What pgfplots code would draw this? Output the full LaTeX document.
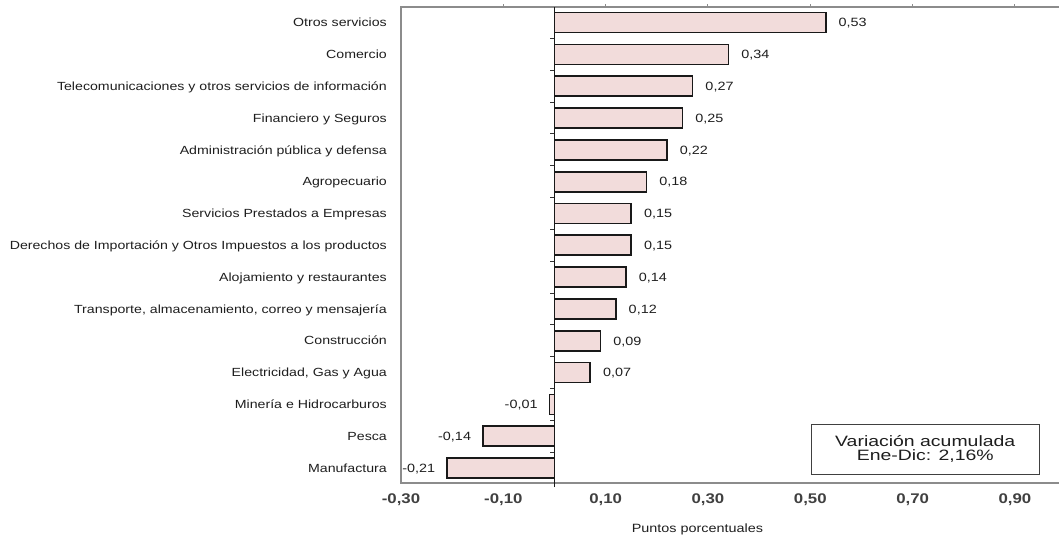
\documentclass[border=0pt]{standalone}
\usepackage{fontspec}
\setmainfont{Liberation Sans}[FakeStretch=1.2]
\usepackage{pgfplots}
\usepackage{pgfplotstable}
\pgfplotsset{compat=1.18}

\definecolor{barfill}{HTML}{F2DCDB}
\definecolor{framegray}{HTML}{8C8C8C}
\definecolor{txt}{HTML}{1E1E1E}

% contributions (percentage points); idx 0 = bottom row
\pgfplotstableread{
idx val
0 -0.21
1 -0.14
2 -0.01
}\negdata
\pgfplotstableread{
idx val
3 0.07
4 0.09
5 0.12
6 0.14
7 0.15
8 0.15
9 0.18
10 0.22
11 0.25
12 0.27
13 0.34
14 0.53
}\posdata

\begin{document}
\begin{tikzpicture}
\useasboundingbox (-401pt,-55pt) rectangle ++(1059pt,538pt);
\begin{axis}[
  scale only axis,
  width=658pt, height=476pt,
  xmin=-0.3, xmax=0.986,
  ymin=-0.47, ymax=14.49,
  clip=false,
  xbar, bar width=20pt, bar shift=0pt,
  axis line style={draw=none},
  major tick length=0pt,
  xtick={-0.3,-0.1,0.1,0.3,0.5,0.7,0.9},
  xticklabels={{-0,30},{-0,10},{0,10},{0,30},{0,50},{0,70},{0,90}},
  x tick label style={font=\bfseries\fontsize{14}{14}\selectfont, text=txt!85,
    anchor=base, inner sep=0pt, yshift=-20pt},
  ytick={0,...,14},
  yticklabels={Manufactura, Pesca, Minería e Hidrocarburos,
    {Electricidad, Gas y Agua}, Construcción,
    {Transporte, almacenamiento, correo y mensajería\hspace{3pt}},
    Alojamiento y restaurantes\hspace{3pt},
    Derechos de Importación y Otros Impuestos a los productos,
    Servicios Prestados a Empresas, Agropecuario,
    Administración pública y defensa\hspace{3pt},
    Financiero y Seguros,
    Telecomunicaciones y otros servicios de información\hspace{3pt},
    Comercio, Otros servicios},
  y tick label style={font=\fontsize{11.8}{12}\selectfont, text=txt,
    anchor=base east, inner sep=0pt, xshift=-14pt, yshift=-4.2pt},
  xlabel={Puntos porcentuales},
  xlabel style={font=\fontsize{12}{12}\selectfont, text=txt,
    at={(axis description cs:0.4506,0)}, anchor=base, yshift=-49pt},
  point meta=x,
]
\addplot[fill=barfill, draw=black!90, line width=1.7pt,
  nodes near coords={\pgfmathprintnumber[fixed,fixed zerofill,precision=2,use comma,assume math mode=true]{\pgfplotspointmeta}},
  every node near coord/.style={font=\fontsize{12}{12}\selectfont, text=txt,
    anchor=base west, inner sep=0pt, xshift=12pt, yshift=-4.3pt}]
  table[x=val, y=idx] {\posdata};
\addplot[fill=barfill, draw=black!90, line width=1.7pt,
  nodes near coords={\pgfmathprintnumber[fixed,fixed zerofill,precision=2,use comma,assume math mode=true]{\pgfplotspointmeta}},
  every node near coord/.style={font=\fontsize{12}{12}\selectfont, text=txt,
    anchor=base east, inner sep=0pt, xshift=-11pt, yshift=-4.3pt}]
  table[x=val, y=idx] {\negdata};

% frame: top, left and bottom sides
\draw[framegray, line width=1.3pt]
  (rel axis cs:1,1) -- (rel axis cs:0,1) -- (rel axis cs:0,0) -- (rel axis cs:1,0);
% small ticks above the top side
\pgfplotsinvokeforeach{-0.1,0.1,0.3,0.5,0.7,0.9}{
  \draw[framegray, line width=1pt] (axis cs:#1,14.49) -- ([yshift=3pt]axis cs:#1,14.49);
}
% zero line with category separators
\draw[black!90, line width=1.4pt] (axis cs:0,-0.6) -- (axis cs:0,14.49);
\pgfplotsinvokeforeach{0.5,1.5,2.5,3.5,4.5,5.5,6.5,7.5,8.5,9.5,10.5,11.5,12.5,13.5}{
  \draw[black!80, line width=1pt] (axis cs:0,#1) -- ([xshift=-4pt]axis cs:0,#1);
}

\node[draw=black!75, line width=1pt, fill=white, minimum width=228pt,
  minimum height=50pt, align=center, text=txt,
  font=\fontsize{15}{15}\selectfont] at (axis cs:0.7246,0.597)
  {\scalebox{1.08}[1]{Variación acumulada}\\[-1pt]\scalebox{1.08}[1]{Ene-Dic: 2,16\%}};
\end{axis}
\end{tikzpicture}
\end{document}
